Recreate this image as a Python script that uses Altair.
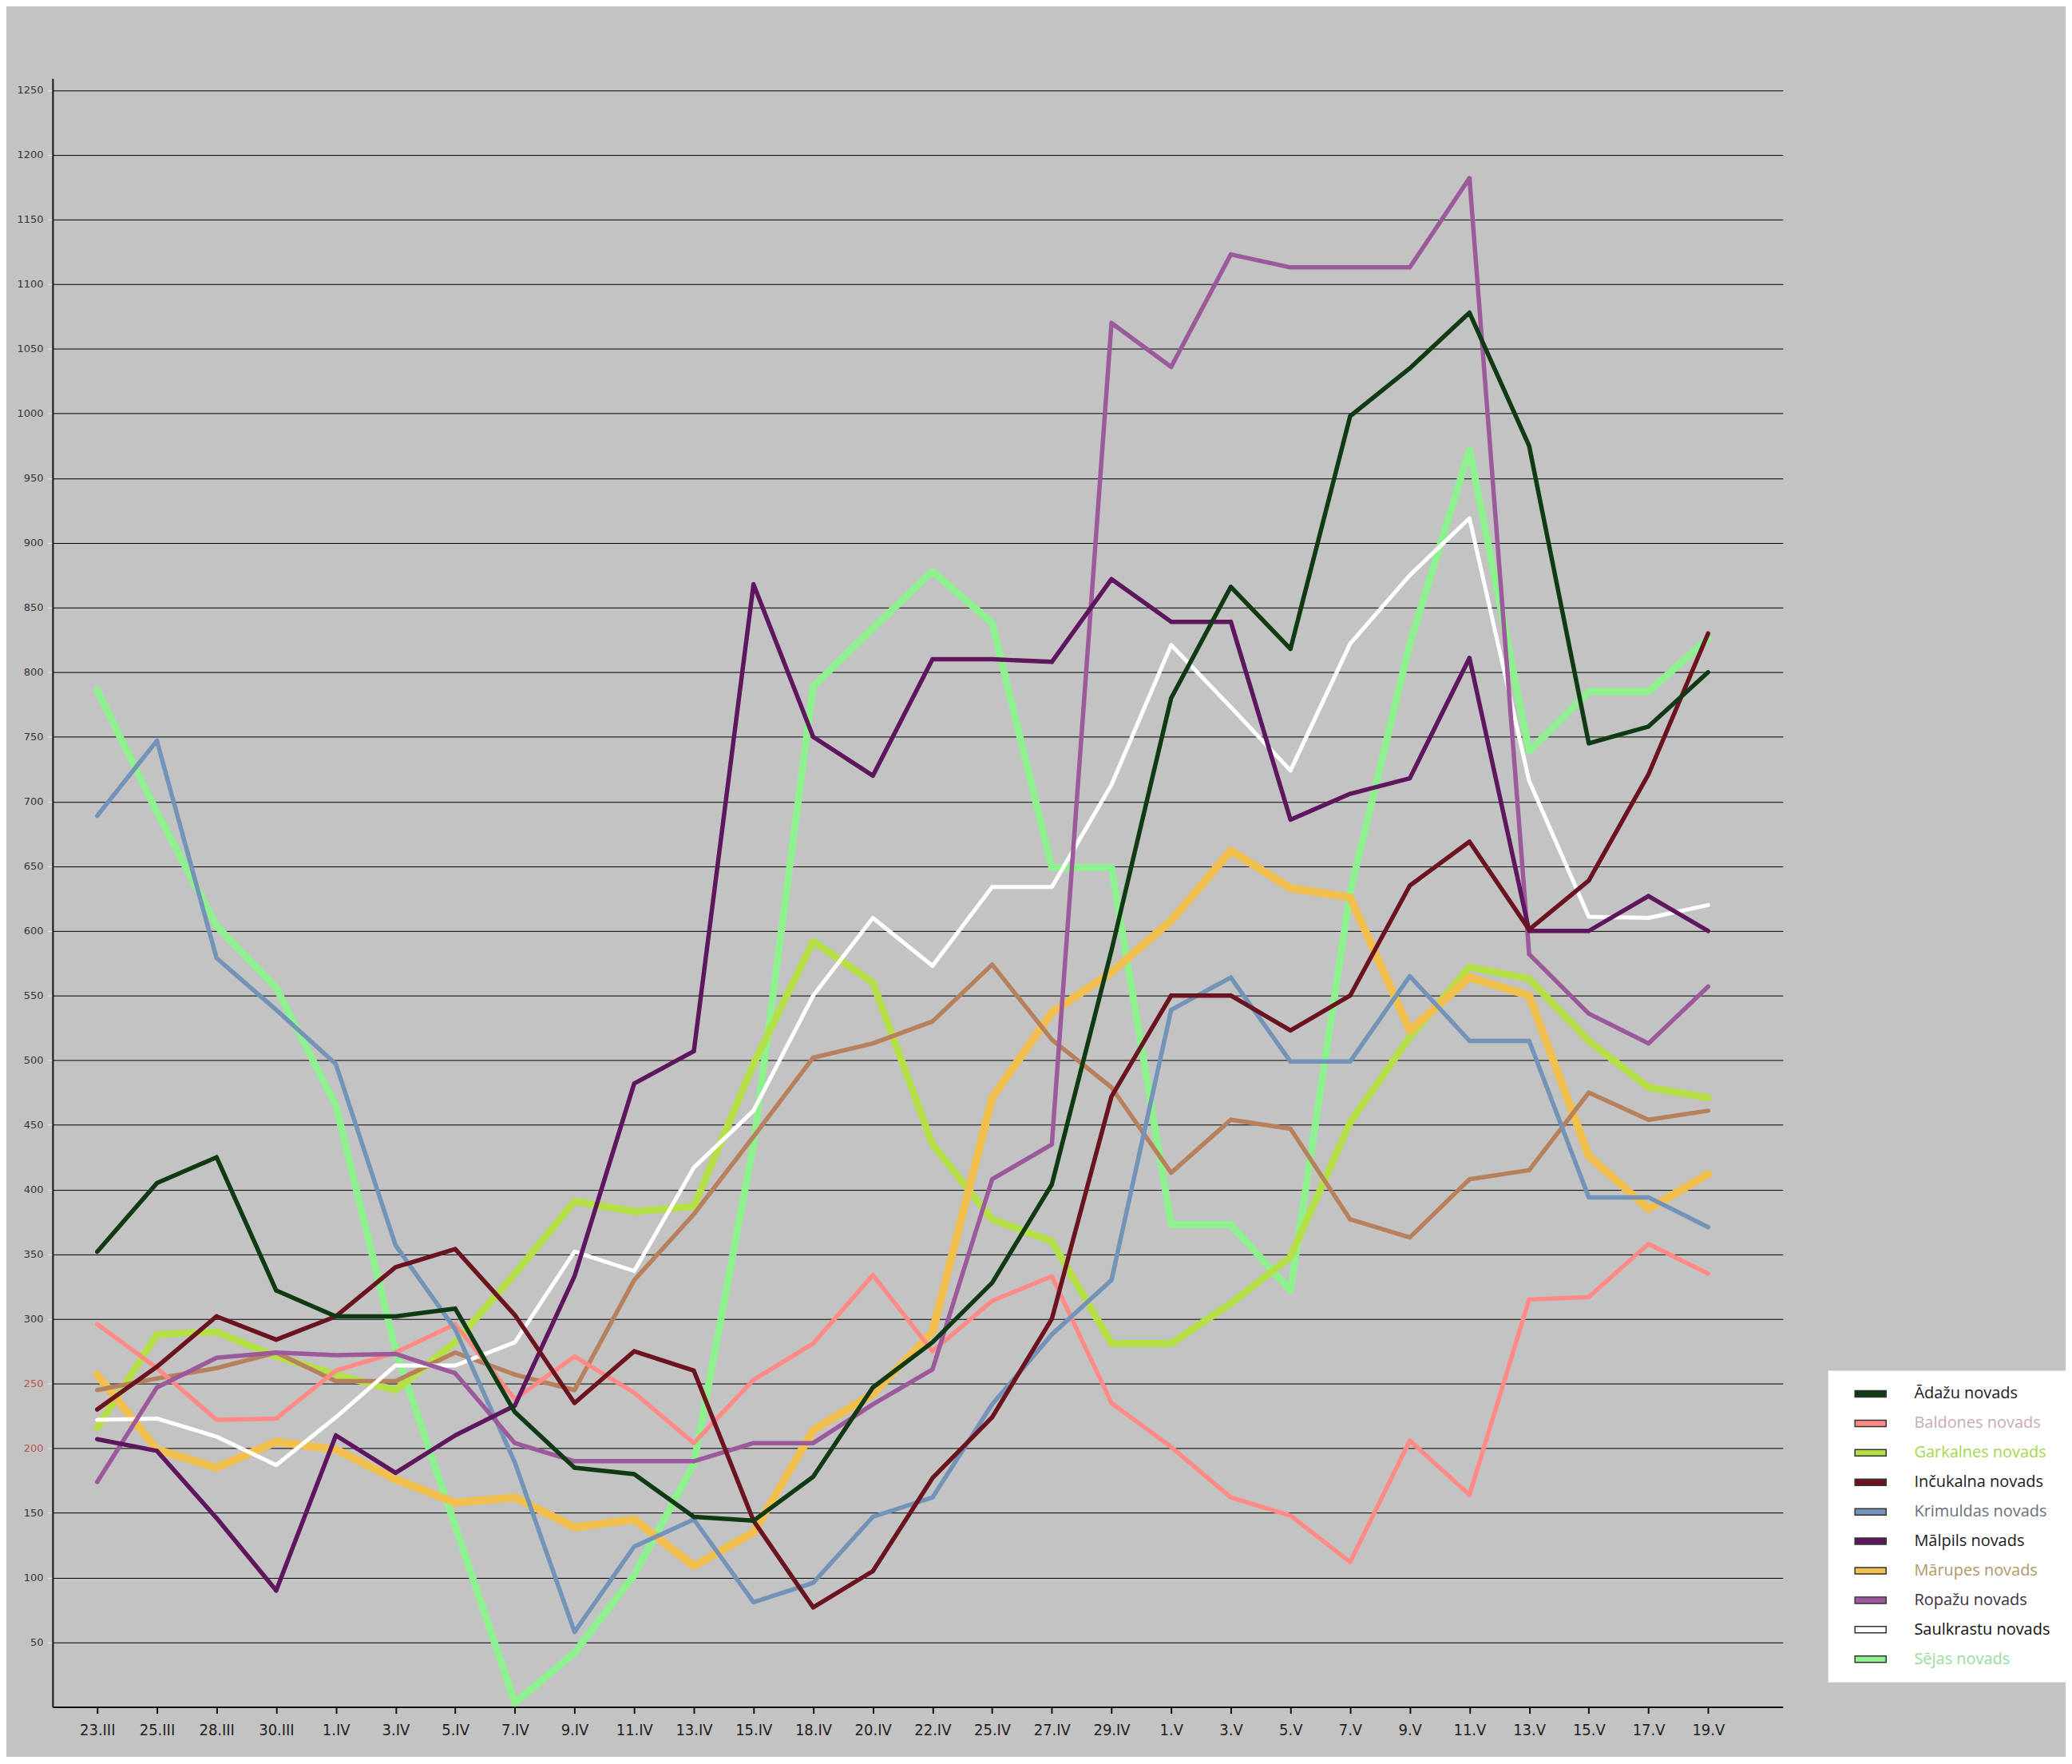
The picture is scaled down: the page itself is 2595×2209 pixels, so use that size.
import altair as alt
import pandas as pd

dates = ["23.III", "25.III", "28.III", "30.III", "1.IV", "3.IV", "5.IV", "7.IV", "9.IV",
         "11.IV", "13.IV", "15.IV", "18.IV", "20.IV", "22.IV", "25.IV", "27.IV", "29.IV",
         "1.V", "3.V", "5.V", "7.V", "9.V", "11.V", "13.V", "15.V", "17.V", "19.V"]

adazi = [352, 405, 425, 322, 302, 302, 308, 228, 185, 180, 147, 144, 178, 247, 282, 328,
         404, 585, 780, 866, 818, 998, 1035, 1078, 975, 745, 758, 800]
baldone = [296, 262, 222, 223, 260, 274, 296, 238, 271, 243, 204, 253, 281, 334, 275, 314,
           333, 235, 201, 162, 148, 112, 206, 164, 315, 317, 358, 335]
garkalne = [216, 288, 290, 271, 257, 245, 282, 335, 391, 383, 387, 497, 592, 560, 435, 377,
            360, 281, 281, 312, 348, 452, 518, 572, 563, 515, 479, 471]
incukalns = [230, 263, 302, 284, 302, 340, 354, 303, 235, 275, 260, 144, 77, 105, 177, 224,
             300, 472, 550, 550, 523, 550, 635, 669, 601, 639, 721, 830]
krimulda = [689, 747, 579, 539, 497, 357, 292, 189, 58, 124, 145, 81, 96, 147, 162, 234,
            288, 330, 539, 564, 499, 499, 565, 515, 515, 394, 394, 371]
malpils = [207, 198, 146, 90, 210, 181, 210, 233, 333, 482, 507, 868, 750, 720, 810, 810,
           808, 872, 839, 839, 686, 706, 718, 811, 600, 600, 627, 600]
marupe = [257, 199, 185, 205, 199, 176, 158, 162, 139, 145, 109, 135, 214, 242, 290, 471,
          537, 568, 608, 662, 633, 626, 523, 564, 550, 426, 385, 412]
ropazi = [174, 247, 270, 274, 272, 273, 258, 204, 190, 190, 190, 204, 204, 234, 261, 408,
          435, 1070, 1036, 1123, 1113, 1113, 1113, 1182, 582, 536, 513, 557]
saulkrasti = [222, 223, 209, 187, 224, 264, 264, 282, 352, 337, 417, 461, 550, 610, 573, 634,
              634, 713, 821, 773, 724, 822, 875, 919, 716, 611, 610, 620]
seja = [786, 692, 604, 556, 465, 276, 140, 3, 42, 102, 188, 435, 789, 834, 878, 838,
        649, 649, 373, 373, 322, 630, 822, 972, 739, 785, 785, 826]
cits = [245, 254, 262, 274, 252, 252, 274, 257, 245, 330, 381, 441, 502, 513, 530, 574,
        516, 479, 413, 454, 447, 377, 363, 408, 415, 475, 454, 461]

legend_names = ["Ādažu novads", "Baldones novads", "Garkalnes novads", "Inčukalna novads",
                "Krimuldas novads", "Mālpils novads", "Mārupes novads", "Ropažu novads",
                "Saulkrastu novads", "Sējas novads"]
y_ticks = list(range(50, 1300, 50))

# drawing order (first drawn is underneath)
series = [
    ("Sējas novads", seja),
    ("Garkalnes novads", garkalne),
    ("Mārupes novads", marupe),
    ("cits", cits),
    ("Saulkrastu novads", saulkrasti),
    ("Baldones novads", baldone),
    ("Krimuldas novads", krimulda),
    ("Ropažu novads", ropazi),
    ("Mālpils novads", malpils),
    ("Inčukalna novads", incukalns),
    ("Ādažu novads", adazi),
]

# styles
colors = {
    "Ādažu novads": "#0f3a14",
    "Baldones novads": "#ff8a86",
    "Garkalnes novads": "#b6e048",
    "Inčukalna novads": "#6b1420",
    "Krimuldas novads": "#7393b8",
    "Mālpils novads": "#5e165e",
    "Mārupes novads": "#f2c04e",
    "Ropažu novads": "#9c5a9c",
    "Saulkrastu novads": "#ffffff",
    "Sējas novads": "#8ef08e",
    "cits": "#b8815e",
}
widths = {
    "Ādažu novads": 5.5, "Baldones novads": 5.5, "Garkalnes novads": 9, "Inčukalna novads": 5.5,
    "Krimuldas novads": 5.5, "Mālpils novads": 5.5, "Mārupes novads": 10, "Ropažu novads": 5.5,
    "Saulkrastu novads": 5, "Sējas novads": 9, "cits": 5.5,
}
label_colors = {
    "Ādažu novads": "#1a1a1a", "Baldones novads": "#c9aab6", "Garkalnes novads": "#a4d84c",
    "Inčukalna novads": "#1a1a1a", "Krimuldas novads": "#6a7078", "Mālpils novads": "#1a1a1a",
    "Mārupes novads": "#b09868", "Ropažu novads": "#3a3040", "Saulkrastu novads": "#101010",
    "Sējas novads": "#98dc98",
}

rows = []
for order, (name, vals) in enumerate(series):
    for d, v in zip(dates, vals):
        rows.append({"date": d, "novads": name, "value": v, "ord": order, "w": widths[name]})
df = pd.DataFrame(rows)

dom = [n for n, _ in series]
label_expr = "".join(f"datum.label == '{k}' ? '{v}' : " for k, v in label_colors.items()) + "'#222'"

chart = alt.Chart(df).mark_trail().encode(
    x=alt.X("date:N", sort=dates,
            scale=alt.Scale(type="point", padding=1.295, align=0.374),
            axis=alt.Axis(title=None, labelAngle=0, grid=False,
                          labelFont="Liberation Sans Narrow, DejaVu Sans Condensed, sans-serif",
                          labelFontSize=20, labelColor="#222", labelPadding=11,
                          tickColor="#111", tickSize=8, tickWidth=2,
                          domainColor="#111", domainWidth=2)),
    y=alt.Y("value:Q", scale=alt.Scale(domain=[0, 1259], nice=False),
            axis=alt.Axis(title=None, values=y_ticks, format="d", grid=True, gridColor="#000",
                          gridWidth=1, labelFont="DejaVu Sans", labelFontSize=13,
                          labelColor={"condition": {"test": "datum.value == 200 || datum.value == 250",
                                                    "value": "#b4574e"},
                                      "value": "#333333"},
                          labelPadding=6, tickColor="#eeeeee", tickSize=6, tickWidth=1,
                          domainColor="#111", domainWidth=2)),
    fill=alt.Fill("novads:N",
                  scale=alt.Scale(domain=dom, range=[colors[n] for n in dom]),
                  legend=alt.Legend(title=None, orient="none", legendX=2229, legendY=1622,
                                    values=legend_names, fillColor="#ffffff", padding=19,
                                    symbolType="M0.7,-0.62H6.7V0.62H0.7Z", symbolSize=170,
                                    symbolStrokeWidth=1.5, symbolStrokeColor="#333333",
                                    symbolOpacity=1,
                                    labelFont="Open Sans", labelFontSize=20,
                                    labelColor={"expr": label_expr},
                                    labelOffset=69, labelLimit=400, rowPadding=17)),
    size=alt.Size("w:Q", scale=None, legend=None),
    detail="novads:N",
    order=alt.Order("ord:Q"),
).properties(
    width=2172, height=2044,
    autosize=alt.AutoSizeParams(type="none"),
    padding={"left": 58, "top": 88, "right": 355, "bottom": 60},
    background="#c3c3c3",
).configure_view(stroke=None)

chart.save("out.html", embed_options={"renderer": "svg", "actions": False})
